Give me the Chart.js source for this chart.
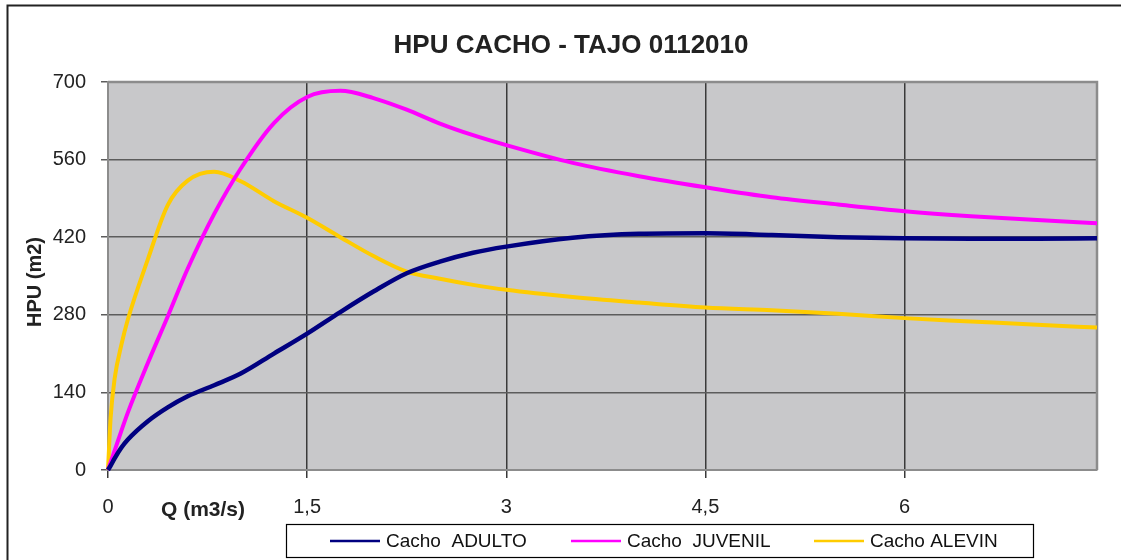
<!DOCTYPE html>
<html>
<head>
<meta charset="utf-8">
<script src="https://cdn.jsdelivr.net/npm/chart.js@4.4.0/dist/chart.umd.min.js"></script>
<style>
  html, body { margin: 0; padding: 0; background: #fff; }
  #wrap { width: 1121px; height: 560px; position: relative; }
</style>
</head>
<body>
<div id="wrap"><canvas id="hpuChart" width="1121" height="560"></canvas></div>
<script>
// caudal Q (m3/s)
const qValues = [0, 0.02, 0.05, 0.1, 0.15, 0.3, 0.45, 0.6, 0.8, 1.0, 1.25, 1.5, 1.75, 2.0, 2.25, 2.5, 2.75, 3.0, 3.5, 4.0, 4.5, 5.0, 5.5, 6.0, 6.5, 7.0, 7.45];
// HPU (m2)
const adulto  = [0, 8, 21, 40, 55, 88, 113, 133, 153, 174, 210, 246, 285, 322, 355, 376, 392, 403, 419, 426, 427, 424, 420, 418, 417, 417, 418];
const juvenil = [0, 14, 35, 70, 104, 193, 277, 363, 462, 544, 626, 673, 684, 671, 650, 625, 604, 586, 554, 530, 510, 492, 479, 467, 458, 451, 445];
const alevin  = [0, 95, 165, 225, 272, 380, 478, 522, 538, 521, 485, 455, 420, 386, 358, 345, 334, 325, 312, 302, 293, 288, 282, 274, 268, 262, 257];

const xTicks = [0, 1.5, 3, 4.5, 6];
const seriesNames = ["Cacho  ADULTO", "Cacho  JUVENIL", "Cacho ALEVIN"];
const seriesColors = ["#000080", "#ff00ff", "#ffcc00"];

const FONT = "'Liberation Sans', Arial, sans-serif";

function toPoints(ys) {
  return qValues.map((q, i) => ({ x: q, y: ys[i] }));
}

const framePlugin = {
  id: "frame",
  beforeDraw(chart) {
    const c = chart.ctx, a = chart.chartArea;
    c.save();
    c.fillStyle = "#fff";
    c.fillRect(0, 0, chart.width, chart.height);
    c.fillStyle = "#c8c8ca";
    c.fillRect(a.left, a.top, a.right - a.left, a.bottom - a.top);
    c.restore();
  },
  beforeDatasetsDraw(chart) {
    const c = chart.ctx, a = chart.chartArea;
    c.save();
    c.strokeStyle = "#8c8c8c";
    c.lineWidth = 2.5;
    c.beginPath();
    c.moveTo(a.left, a.top);
    c.lineTo(a.right, a.top);
    c.lineTo(a.right, a.bottom);
    c.stroke();
    c.restore();
  },
  afterDraw(chart) {
    const c = chart.ctx;
    c.save();
    // outer frame
    c.strokeStyle = "#222";
    c.lineWidth = 2;
    c.strokeRect(7.5, 5.5, 1200, 600);
    // title
    c.fillStyle = "#222";
    c.font = "bold 26px " + FONT;
    c.textAlign = "center";
    c.textBaseline = "middle";
    c.fillText("HPU CACHO - TAJO 0112010", 571, 46);
    // axis titles
    c.font = "bold 21px " + FONT;
    c.fillText("Q (m3/s)", 203, 510);
    c.save();
    c.font = "bold 20px " + FONT;
    c.translate(35, 282);
    c.rotate(-Math.PI / 2);
    c.fillText("HPU (m2)", 0, 0);
    c.restore();
    // legend
    c.strokeStyle = "#000";
    c.lineWidth = 1.2;
    c.strokeRect(286.5, 524.5, 747, 33);
    const lx = [330, 571, 814];
    c.font = "19px " + FONT;
    c.textAlign = "left";
    c.fillStyle = "#111";
    lx.forEach((x, i) => {
      c.strokeStyle = seriesColors[i];
      c.lineWidth = 2.5;
      c.beginPath();
      c.moveTo(x, 541);
      c.lineTo(x + 50, 541);
      c.stroke();
      c.fillText(seriesNames[i], x + 56, 542);
    });
    c.restore();
  }
};

new Chart(document.getElementById("hpuChart"), {
  type: "scatter",
  data: {
    datasets: [adulto, juvenil, alevin].map((ys, i) => ({
      label: seriesNames[i],
      data: toPoints(ys),
      showLine: true,
      borderColor: seriesColors[i],
      backgroundColor: seriesColors[i],
      borderWidth: i === 0 ? 4.5 : 4,
      pointRadius: 0,
      cubicInterpolationMode: "monotone",
      clip: 4
    }))
  },
  options: {
    responsive: false,
    animation: false,
    layout: { padding: { top: 82, right: 24, left: 0, bottom: 0 } },
    plugins: { legend: { display: false }, title: { display: false }, tooltip: { enabled: false } },
    scales: {
      x: {
        type: "linear",
        min: 0,
        max: 7.45,
        afterBuildTicks(axis) { axis.ticks = xTicks.map(v => ({ value: v })); },
        afterFit(scale) { scale.height = 90; },
        grid: { color: "#3a3a3a", lineWidth: 1.5, tickLength: 8 },
        border: { display: true, color: "#8c8c8c", width: 2 },
        ticks: {
          padding: 17,
          color: "#222",
          font: { family: FONT, size: 20 },
          callback: v => String(v).replace(".", ",")
        }
      },
      y: {
        min: 0,
        max: 700,
        afterFit(scale) { scale.width = 108; },
        grid: { color: "#5c5c5c", lineWidth: 1.5, tickLength: 7 },
        border: { display: true, color: "#8c8c8c", width: 2 },
        ticks: {
          stepSize: 140,
          padding: 15,
          color: "#222",
          font: { family: FONT, size: 20 }
        }
      }
    }
  },
  plugins: [framePlugin]
});
</script>
</body>
</html>
